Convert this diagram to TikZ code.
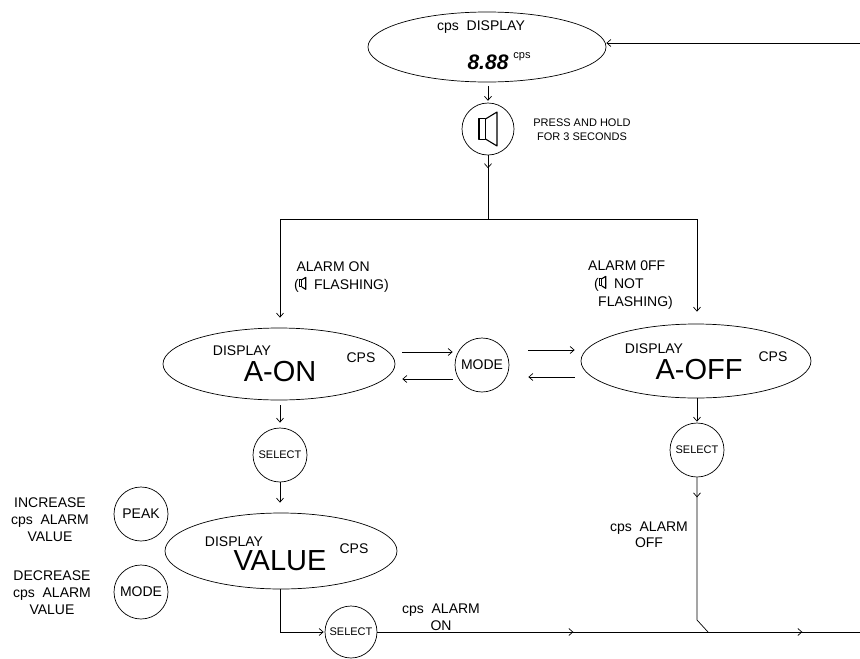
\documentclass[tikz,border=0pt]{standalone}
\usepackage{fontspec}
\setmainfont{Liberation Sans}
\usetikzlibrary{shapes.geometric,arrows.meta,decorations.markings,calc}
\newcommand{\spkicon}[2][0.8pt]{\tikz[baseline={(0,0.1)}, x=#2, y=#2, line width=#1, line join=round]{\draw (0,0.2) rectangle (0.2,0.8); \draw (0.2,0.8) -- (0.53,1) -- (0.53,0) -- (0.2,0.2);}}
\tikzset{
  ell/.style={ellipse, draw, inner sep=0pt},
  cir/.style={circle, draw, inner sep=0pt},
  txt/.style={inner sep=0pt, font=\fontsize{14}{18}\selectfont},
  small/.style={inner sep=0pt, font=\fontsize{11}{14}\selectfont},
  big/.style={inner sep=0pt, font=\fontsize{29}{30}\selectfont},
  seg/.style={inner sep=0pt, font=\fontsize{21}{21}\selectfont\bfseries\itshape},
  arrowat/.style={postaction={decorate},decoration={markings,mark=at position #1 with {\arrow{>}}}},
  arrowtwo/.style 2 args={postaction={decorate},decoration={markings,mark=at position #1 with {\arrow{>}},mark=at position #2 with {\arrow{>}}}}
}
\begin{document}
\begin{tikzpicture}[x=1pt,y=-1pt,line width=0.7pt,>={Straight Barb[length=4pt,width=7pt]}]
\useasboundingbox (0,0) rectangle (860,659);
% top display
\node[ell,minimum width=238pt,minimum height=70pt] (top) at (487,47) {};
\node[txt] (topl) at (481,27) {cps~~DISPLAY};
\node[seg] (topv) at (488,62) {8.88};
\node[small] (topu) at (522,57) {cps};
\node[cir,minimum size=52pt] (spk) at (488,129) {\spkicon[1.1pt]{34pt}};
\node[small,align=center] (press) at (582,130) {PRESS AND HOLD\\FOR 3 SECONDS};
\coordinate (tr) at (860,43);
\coordinate (split) at (488,219);
\coordinate (splitL) at (280,219);
\coordinate (splitR) at (697,219);
% A-ON
\node[ell,minimum width=232pt,minimum height=72pt] (aon) at (279,364) {};
\node[txt] (aond) at (242,351) {DISPLAY};
\node[big] (aonv) at (280,372) {A-ON};
\node[txt] (aonc) at (361,358) {CPS};
\node[txt,align=left,anchor=west] (alon) at (294,277) {\,ALARM ON\\(\spkicon[1.1pt]{12pt}~~FLASHING)};
% MODE
\node[cir,minimum size=54pt,txt] (mode) at (482,365) {MODE};
% A-OFF
\node[ell,minimum width=230pt,minimum height=74pt] (aoff) at (696,361) {};
\node[txt] (aoffd) at (654,349) {DISPLAY};
\node[big] (aoffv) at (699,370) {A-OFF};
\node[txt] (aoffc) at (773,357) {CPS};
\node[txt,align=left,anchor=west] (aloff) at (588,285) {ALARM 0FF\\\hspace{6pt}(\spkicon[1.1pt]{12pt}~~NOT\\\hspace{10pt}FLASHING)};
% left column
\node[cir,minimum size=54pt,small] (sel1) at (280,455) {SELECT};
\node[ell,minimum width=232pt,minimum height=76pt] (val) at (281,551) {};
\node[txt] (vald) at (234,542) {DISPLAY};
\node[big] (valv) at (280,561) {VALUE};
\node[txt] (valc) at (354,549) {CPS};
\node[cir,minimum size=54pt,txt] (peak) at (141,514) {PEAK};
\node[cir,minimum size=54pt,txt] (mode2) at (141,592) {MODE};
\node[txt,align=center,font=\fontsize{14}{17}\selectfont] (inc) at (50,520) {INCREASE\\cps~~ALARM\\VALUE};
\node[txt,align=center,font=\fontsize{14}{17}\selectfont] (dec) at (52,593) {DECREASE\\cps~~ALARM\\VALUE};
\node[cir,minimum size=52pt,small] (sel3) at (351,632) {SELECT};
\node[txt,align=center,font=\fontsize{14}{17}\selectfont] (alonb) at (441,617) {cps~~ALARM\\ON};
% right column
\node[cir,minimum size=54pt,small] (sel2) at (697,450) {SELECT};
\node[txt,align=center,font=\fontsize{14}{16}\selectfont] (aloffb) at (649,535) {cps~~ALARM\\OFF};
\coordinate (kink) at (697,620);
\coordinate (join) at (708,632);
\coordinate (br) at (860,632);
% connectors
\draw[->] (tr) -- (top.east |- tr);
\draw[->,shorten <=4pt,shorten >=2pt] (top.south -| spk.north) -- (spk.north);
\draw[arrowat=13pt] (spk.south) -- (split);
\draw (splitL) -- (splitR);
\draw[->,shorten >=10pt] (splitL) -- (splitL |- aon.north);
\draw[->,shorten >=12pt] (splitR) -- (splitR |- aoff.north);
\draw[->] ([xshift=7pt,yshift=12pt]aon.east) -- ([xshift=-2pt,yshift=13pt]mode.west);
\draw[->] ([xshift=-2pt,yshift=-14pt]mode.west) -- ([xshift=7pt,yshift=-15pt]aon.east);
\draw[->] ([xshift=19pt,yshift=15pt]mode.east) -- ([xshift=-6pt,yshift=11pt]aoff.west);
\draw[->] ([xshift=-6pt,yshift=-16pt]aoff.west) -- ([xshift=19pt,yshift=-12pt]mode.east);
\draw[->,shorten <=5pt,shorten >=5pt] (aon.south -| sel1.north) -- (sel1.north);
\draw[->,shorten >=10pt] (sel1.south) -- (sel1.south |- val.north);
\draw[->,shorten >=1pt] (val.south -| splitL) |- (sel3.west);
\draw[arrowtwo={196pt}{425pt}] (sel3.east) -- (br);
\draw[->,shorten >=1pt] (aoff.south -| sel2.north) -- (sel2.north);
\draw[arrowat=20pt] (sel2.south) -- (kink) -- (join);
\end{tikzpicture}
\end{document}
